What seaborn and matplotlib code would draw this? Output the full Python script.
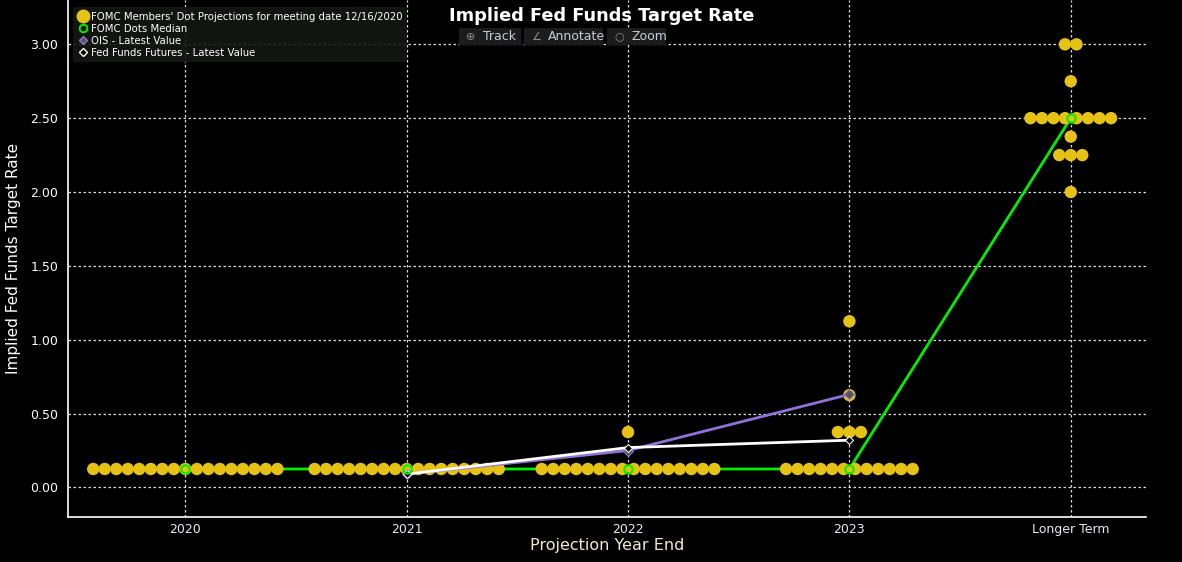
import numpy as np
import pandas as pd
import seaborn as sns
import matplotlib.pyplot as plt
from matplotlib.lines import Line2D

# Projection horizons
horizons = ['2020', '2021', '2022', '2023', 'Longer Term']

# FOMC dot plot (rate levels and how many participants at each)
rates_2020 = [0.125]
counts_2020 = [17]
rates_2021 = [0.125]
counts_2021 = [17]
rates_2022 = [0.125, 0.375]
counts_2022 = [16, 1]
rates_2023 = [0.125, 0.375, 0.625, 1.125]
counts_2023 = [12, 3, 1, 1]
rates_lt = [2.0, 2.25, 2.375, 2.5, 2.75, 3.0]
counts_lt = [1, 3, 1, 8, 1, 2]

median_dots = [0.125, 0.125, 0.125, 0.125, 2.5]

# market implied paths (2021 .. 2023)
market_idx = [1, 2, 3]
ois_values = [0.09, 0.25, 0.63]
futures_values = [0.09, 0.27, 0.32]

YELLOW = '#e6c214'
GREEN = '#00f000'
PURPLE = '#8f72d8'
FONT = ['Liberation Sans Narrow', 'DejaVu Sans']

# spread dots that share a level side by side
dot_gap = 0.052
rows = []
all_rates = [rates_2020, rates_2021, rates_2022, rates_2023, rates_lt]
all_counts = [counts_2020, counts_2021, counts_2022, counts_2023, counts_lt]
for i, (rs, cs) in enumerate(zip(all_rates, all_counts)):
    for r, c in zip(rs, cs):
        for k in range(c):
            rows.append({'x': i + (k - (c - 1) / 2) * dot_gap, 'rate': r})
dots_df = pd.DataFrame(rows)

median_df = pd.DataFrame({'x': np.arange(len(horizons)), 'rate': median_dots})
ois_df = pd.DataFrame({'x': market_idx, 'rate': ois_values})
fut_df = pd.DataFrame({'x': market_idx, 'rate': futures_values})

sns.set_style('dark')
plt.rcParams['font.family'] = FONT

fig = plt.figure(figsize=(11.82, 5.62), dpi=100, facecolor='black')
ax = fig.add_axes([68 / 1182, 45 / 562, (1146 - 68) / 1182, 517 / 562])
ax.set_facecolor('black')

sns.lineplot(data=median_df, x='x', y='rate', color=GREEN, linewidth=2,
             sort=False, estimator=None, ax=ax, zorder=2)
sns.scatterplot(data=dots_df, x='x', y='rate', color=YELLOW, s=80,
                edgecolor='none', ax=ax, zorder=3)
sns.lineplot(data=ois_df, x='x', y='rate', color=PURPLE, linewidth=2,
             marker='D', markersize=5, markerfacecolor='#555555',
             markeredgecolor=PURPLE, sort=False, estimator=None, ax=ax, zorder=4)
sns.lineplot(data=fut_df, x='x', y='rate', color='white', linewidth=2,
             marker='D', markersize=4.5, markerfacecolor='black',
             markeredgecolor='white', sort=False, estimator=None, ax=ax, zorder=5)
sns.lineplot(data=median_df, x='x', y='rate', linestyle='', marker='o',
             markersize=6, markerfacecolor='none', markeredgecolor=GREEN,
             markeredgewidth=1.5, sort=False, estimator=None, ax=ax, zorder=6)

ax.set_xlim(-0.53, 4.34)
ax.set_ylim(-0.2, 3.3)
ax.set_xticks(range(len(horizons)))
ax.set_xticklabels(horizons)
ax.set_yticks([0, 0.5, 1.0, 1.5, 2.0, 2.5, 3.0])
ax.set_yticklabels([f'{v:.2f}' for v in ax.get_yticks()])
ax.tick_params(axis='x', length=0, pad=4, labelsize=9, colors='#e6ecf5')
ax.tick_params(axis='y', length=4, width=1, pad=3, labelsize=9, colors='white')
ax.grid(True, color='#dddddd', linestyle=(0, (2, 2)), linewidth=0.9)
ax.set_axisbelow(True)

for side in ['top', 'right']:
    ax.spines[side].set_visible(False)
for side in ['left', 'bottom']:
    ax.spines[side].set_visible(True)
    ax.spines[side].set_color('white')
    ax.spines[side].set_linewidth(1.2)

ax.set_ylabel('Implied Fed Funds Target Rate', color='white', fontsize=11)
ax.yaxis.set_label_coords(-0.044, 0.5)
ax.set_xlabel('Projection Year End', color='#f3e9cf', fontsize=11.5)
ax.xaxis.set_label_coords(0.5, -0.04)

fig.text(602 / 1182, 1 - 16 / 562, 'Implied Fed Funds Target Rate',
         color='white', fontsize=12.8, fontweight='bold', ha='center',
         va='center', family='DejaVu Sans')

# toolbar buttons (box, grey icon, label)
buttons = [('Track', '\u2295', 459, 521), ('Annotate', '\u2220', 524, 603),
           ('Zoom', '\u25cb', 607, 666)]
for label, icon, x0, x1 in buttons:
    fig.patches.append(plt.Rectangle((x0 / 1182, 1 - 45 / 562), (x1 - x0) / 1182,
                                     17 / 562, transform=fig.transFigure,
                                     fc='#1c1c1c', ec='none', zorder=1))
    fig.text((x0 + 12) / 1182, 1 - 36.5 / 562, icon, color='#8a8a8a', fontsize=8,
             ha='center', va='center', family='DejaVu Sans')
    fig.text((x0 + 24) / 1182, 1 - 36.5 / 562, label, color='#c5cdd8', fontsize=9,
             ha='left', va='center', family=FONT)

handles = [
    Line2D([], [], linestyle='', marker='o', markersize=9, color=YELLOW),
    Line2D([], [], linestyle='', marker='o', markersize=5.5,
           markerfacecolor='none', markeredgecolor=GREEN, markeredgewidth=1.4),
    Line2D([], [], linestyle='', marker='D', markersize=4,
           markerfacecolor='#555555', markeredgecolor=PURPLE),
    Line2D([], [], linestyle='', marker='D', markersize=4,
           markerfacecolor='black', markeredgecolor='white'),
]
labels = ["FOMC Members' Dot Projections for meeting date 12/16/2020",
          'FOMC Dots Median', 'OIS - Latest Value',
          'Fed Funds Futures - Latest Value']
leg = ax.legend(handles, labels, loc='upper left', bbox_to_anchor=(0.003, 0.99),
                frameon=True, facecolor='#121812', edgecolor='none', framealpha=0.9,
                fontsize=7.3, labelcolor='white', handletextpad=0.3,
                borderpad=0.45, labelspacing=0.2, handlelength=1.0,
                borderaxespad=0.2)
leg.set_zorder(10)

fig.savefig('out.png', dpi=100, facecolor='black')
